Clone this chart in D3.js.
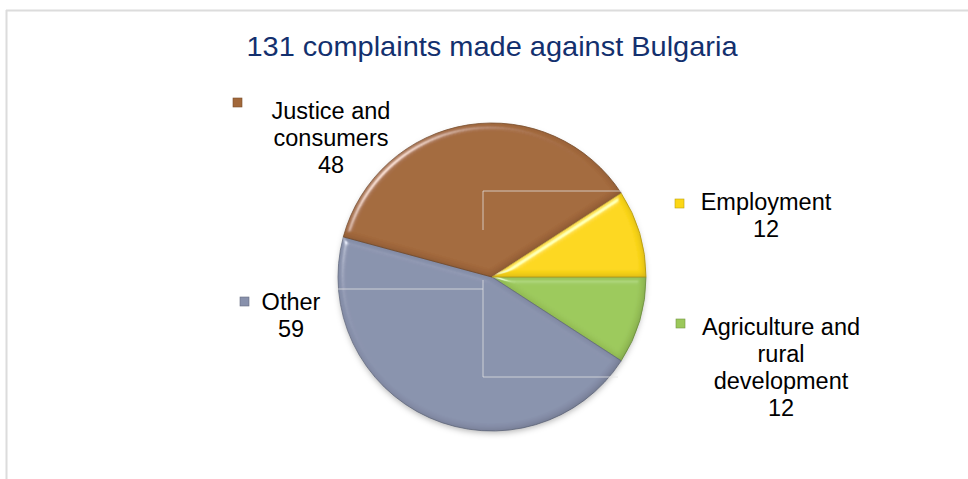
<!DOCTYPE html>
<html>
<head>
<meta charset="utf-8">
<script src="https://cdn.jsdelivr.net/npm/d3@7"></script>
<style>
  html, body { margin: 0; padding: 0; background: #ffffff; }
  svg { display: block; font-family: "Liberation Sans", Arial, sans-serif; }
</style>
</head>
<body>
<svg id="chart" width="968" height="479"></svg>
<script>
// ---- data ----
const titleText = "131 complaints made against Bulgaria";
const categories = ["Agriculture and rural development", "Other", "Justice and consumers", "Employment"];
const values = [12, 59, 48, 12];
const labelLines = [
  ["Agriculture and", "rural", "development"],
  ["Other"],
  ["Justice and", "consumers"],
  ["Employment"]
];

// ---- style / layout ----
const colors = {
  "Agriculture and rural development": "#9bc85a",
  "Other": "#8891ac",
  "Justice and consumers": "#a2683a",
  "Employment": "#fcd716"
};
const W = 968, H = 479;
const cx = 492, cy = 277, R = 154;
// label anchors: text centre x, first baseline, marker x/y
const labelLayout = {
  "Agriculture and rural development": { x: 781, y: 335, mx: 676, my: 319 },
  "Other": { x: 291, y: 310, mx: 240, my: 297 },
  "Justice and consumers": { x: 331, y: 119, mx: 233, my: 98 },
  "Employment": { x: 766, y: 210, mx: 675, my: 199 }
};
const lineH = 27;

const svg = d3.select("#chart");
const defs = svg.append("defs");

// bevel filter: highlight on upper-left edges, shade on lower-right edges
const bevel = defs.append("filter").attr("id", "bevel")
  .attr("x", "-10%").attr("y", "-10%").attr("width", "120%").attr("height", "120%");
bevel.append("feGaussianBlur").attr("in", "SourceAlpha").attr("stdDeviation", 3).attr("result", "blur");
const spec = bevel.append("feSpecularLighting").attr("in", "blur").attr("surfaceScale", 4)
  .attr("specularConstant", 0.7).attr("specularExponent", 40).attr("lighting-color", "#ffffff")
  .attr("result", "spec");
spec.append("feDistantLight").attr("azimuth", 225).attr("elevation", 40);
bevel.append("feComposite").attr("in", "spec").attr("in2", "SourceAlpha").attr("operator", "in").attr("result", "specIn");
// shade: offset blur inside shape
bevel.append("feOffset").attr("in", "blur").attr("dx", -2).attr("dy", -2).attr("result", "offBlur");
bevel.append("feComposite").attr("in", "SourceAlpha").attr("in2", "offBlur").attr("operator", "out").attr("result", "edge");
bevel.append("feFlood").attr("flood-color", "#000").attr("flood-opacity", 0.35).attr("result", "dark");
bevel.append("feComposite").attr("in", "dark").attr("in2", "edge").attr("operator", "in").attr("result", "shade");
bevel.append("feComposite").attr("in", "SourceGraphic").attr("in2", "specIn")
  .attr("operator", "arithmetic").attr("k1", 0).attr("k2", 1).attr("k3", 0.8).attr("k4", 0).attr("result", "lit");
bevel.append("feComposite").attr("in", "shade").attr("in2", "lit").attr("operator", "atop");

const shadow = defs.append("filter").attr("id", "shadow")
  .attr("x", "-20%").attr("y", "-20%").attr("width", "140%").attr("height", "140%");
shadow.append("feDropShadow").attr("dx", 0).attr("dy", 3).attr("stdDeviation", 3)
  .attr("flood-color", "#000").attr("flood-opacity", 0.3);

// border
svg.append("line").attr("x1", 6).attr("y1", 10.5).attr("x2", W).attr("y2", 10.5)
  .attr("stroke", "#dcdcdc").attr("stroke-width", 2);
svg.append("line").attr("x1", 6.5).attr("y1", 10).attr("x2", 6.5).attr("y2", H)
  .attr("stroke", "#dcdcdc").attr("stroke-width", 2);

// title
svg.append("text")
  .attr("x", 492).attr("y", 56)
  .attr("text-anchor", "middle")
  .attr("font-size", 27.5)
  .attr("fill", "#13306e")
  .attr("textLength", 491).attr("lengthAdjust", "spacingAndGlyphs")
  .text(titleText);

// pie
const data = categories.map((c, i) => ({ name: c, value: values[i], lines: labelLines[i] }));
const pie = d3.pie().value(d => d.value).sort(null)
  .startAngle(Math.PI / 2).endAngle(Math.PI / 2 + 2 * Math.PI);
const arc = d3.arc().innerRadius(0).outerRadius(R);
const arcs = pie(data);

const g = svg.append("g").attr("transform", `translate(${cx},${cy})`);
const shadowG = g.append("g").attr("filter", "url(#shadow)");
shadowG.append("circle").attr("r", R - 1).attr("fill", "#8891ac");

g.selectAll("path.slice").data(arcs).enter().append("path")
  .attr("class", "slice")
  .attr("d", arc)
  .attr("fill", d => colors[d.data.name])
  .attr("stroke", d => d3.color(colors[d.data.name]).darker(0.7))
  .attr("stroke-width", 0.8)
  .attr("filter", "url(#bevel)");

// thin leader-like lines
const leader = [
  [[-9, -47], [-9, -86], [130, -86]],
  [[-R, 12], [-9, 12]],
  [[-9, 3], [-9, 100], [126, 100]]
];
leader.forEach(pts => {
  g.append("path").attr("d", d3.line()(pts))
    .attr("fill", "none").attr("stroke", "#e4e4e4").attr("stroke-opacity", 0.75).attr("stroke-width", 1);
});

// labels
arcs.forEach((a, i) => {
  const d = a.data;
  const L = labelLayout[d.name];
  const lines = d.lines.concat([String(d.value)]);
  const t = svg.append("text")
    .attr("text-anchor", "middle")
    .attr("font-size", 23.5)
    .attr("fill", "#000");
  lines.forEach((ln, k) => {
    t.append("tspan").attr("x", L.x).attr("y", L.y + k * lineH).text(ln);
  });
  svg.append("rect")
    .attr("x", L.mx).attr("y", L.my).attr("width", 9).attr("height", 9)
    .attr("fill", colors[d.name])
    .attr("stroke", d3.color(colors[d.name]).darker(0.8)).attr("stroke-width", 0.6);
});
</script>
</body>
</html>
